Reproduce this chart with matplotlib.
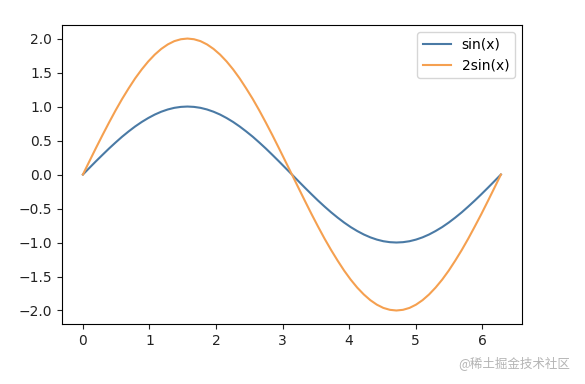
import matplotlib
matplotlib.use("Agg")
import matplotlib.pyplot as plt

# x positions (0 .. 2*pi)
x_vals = [0.0, 0.098, 0.196, 0.295, 0.393, 0.491, 0.589, 0.687, 0.785,
          0.884, 0.982, 1.080, 1.178, 1.276, 1.374, 1.473, 1.571,
          1.669, 1.767, 1.865, 1.963, 2.062, 2.160, 2.258, 2.356,
          2.454, 2.553, 2.651, 2.749, 2.847, 2.945, 3.043, 3.142,
          3.240, 3.338, 3.436, 3.534, 3.632, 3.731, 3.829, 3.927,
          4.025, 4.123, 4.222, 4.320, 4.418, 4.516, 4.614, 4.712,
          4.811, 4.909, 5.007, 5.105, 5.203, 5.301, 5.400, 5.498,
          5.596, 5.694, 5.792, 5.890, 5.989, 6.087, 6.185, 6.283]

# sin(x) curve
sin_vals = [0.0, 0.098, 0.195, 0.290, 0.383, 0.471, 0.556, 0.634, 0.707,
            0.773, 0.831, 0.882, 0.924, 0.957, 0.981, 0.995, 1.0,
            0.995, 0.981, 0.957, 0.924, 0.882, 0.831, 0.773, 0.707,
            0.634, 0.556, 0.471, 0.383, 0.290, 0.195, 0.098, 0.0,
            -0.098, -0.195, -0.290, -0.383, -0.471, -0.556, -0.634, -0.707,
            -0.773, -0.831, -0.882, -0.924, -0.957, -0.981, -0.995, -1.0,
            -0.995, -0.981, -0.957, -0.924, -0.882, -0.831, -0.773, -0.707,
            -0.634, -0.556, -0.471, -0.383, -0.290, -0.195, -0.098, 0.0]

# 2sin(x) curve
two_sin_vals = [0.0, 0.196, 0.390, 0.581, 0.765, 0.943, 1.111, 1.267, 1.414,
                1.546, 1.663, 1.764, 1.848, 1.914, 1.962, 1.990, 2.0,
                1.990, 1.962, 1.914, 1.848, 1.764, 1.663, 1.546, 1.414,
                1.267, 1.111, 0.943, 0.765, 0.581, 0.390, 0.196, 0.0,
                -0.196, -0.390, -0.581, -0.765, -0.943, -1.111, -1.267, -1.414,
                -1.546, -1.663, -1.764, -1.848, -1.914, -1.962, -1.990, -2.0,
                -1.990, -1.962, -1.914, -1.848, -1.764, -1.663, -1.546, -1.414,
                -1.267, -1.111, -0.943, -0.765, -0.581, -0.390, -0.196, 0.0]

fig = plt.figure(figsize=(5.85, 3.84), dpi=100)
ax = fig.add_axes([0.106, 0.156, 0.786, 0.779])

ax.plot(x_vals, sin_vals, color="#4a7aa5", lw=1.5, label="sin(x)")
ax.plot(x_vals, two_sin_vals, color="#f5a050", lw=1.5, label="2sin(x)")

ax.set_yticks([-2.0, -1.5, -1.0, -0.5, 0.0, 0.5, 1.0, 1.5, 2.0])
ax.tick_params(labelsize=10, colors="#222222")
ax.legend(loc="upper right", fontsize=10)

# watermark
fig.text(0.975, 0.055, "@稀土掘金技术社区", ha="right", va="center",
         fontsize=9, color="#b4b4b4",
         family=["Noto Sans CJK SC", "DejaVu Sans"])

fig.savefig("out.png", dpi=100)
